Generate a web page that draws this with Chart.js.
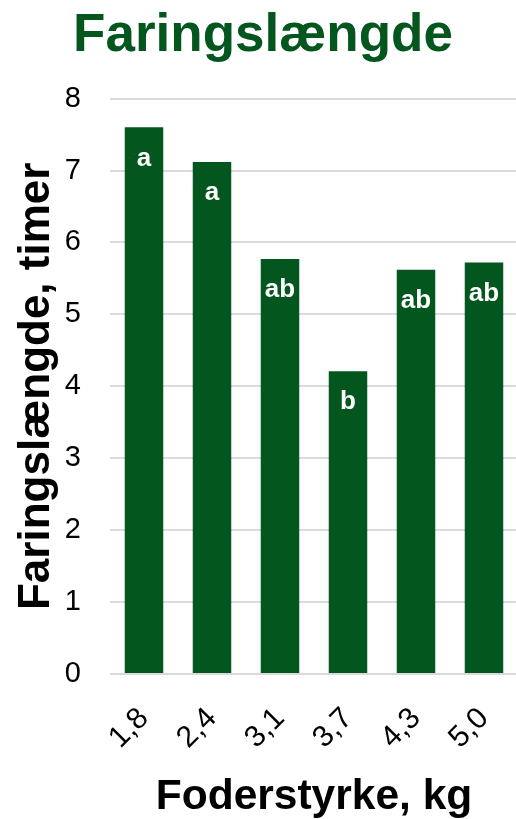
<!DOCTYPE html>
<html>
<head>
<meta charset="utf-8">
<script src="https://cdn.jsdelivr.net/npm/chart.js@4/dist/chart.umd.min.js"></script>
<style>
html,body{margin:0;padding:0;background:#fff;overflow:hidden;}
#wrap{position:relative;width:518px;height:819px;}
</style>
</head>
<body>
<div id="wrap"><canvas id="c"></canvas></div>
<script>
const categories = ["1,8", "2,4", "3,1", "3,7", "4,3", "5,0"];
const values = [7.6, 7.12, 5.77, 4.21, 5.62, 5.72];
const letters = ["a", "a", "ab", "b", "ab", "ab"];
const yTicks = [0, 1, 2, 3, 4, 5, 6, 7, 8];

const GREEN = "#04561f";
const FONT = "'Liberation Sans', Arial, sans-serif";

const letterPlugin = {
  id: "letters",
  afterDatasetsDraw(chart) {
    const ctx = chart.ctx;
    const meta = chart.getDatasetMeta(0);
    ctx.save();
    ctx.fillStyle = "#ffffff";
    ctx.font = "bold 26px " + FONT;
    ctx.textAlign = "center";
    ctx.textBaseline = "middle";
    meta.data.forEach((bar, i) => {
      ctx.fillText(letters[i], bar.x, bar.y + 31);
    });
    ctx.restore();
  }
};

new Chart(document.getElementById("c"), {
  type: "bar",
  data: {
    labels: categories,
    datasets: [{
      data: values,
      backgroundColor: GREEN,
      borderWidth: 0,
      barPercentage: 0.566,
      categoryPercentage: 1.0
    }]
  },
  plugins: [letterPlugin],
  options: {
    responsive: true,
    maintainAspectRatio: false,
    animation: false,
    layout: { padding: { left: 8, right: 0, top: 0, bottom: 0 } },
    plugins: {
      legend: { display: false },
      tooltip: { enabled: false },
      title: {
        display: true,
        text: "Faringslængde",
        color: GREEN,
        font: { family: FONT, size: 53, weight: "bold" },
        padding: { top: 5, bottom: 30 }
      }
    },
    scales: {
      x: {
        grid: { display: false },
        border: { display: false },
        afterFit(scale) {
          scale.paddingLeft = 0;
          scale.paddingRight = 0;
          scale.height = 145;
        },
        ticks: {
          color: "#000",
          font: { family: FONT, size: 30 },
          minRotation: 45,
          maxRotation: 45,
          autoSkip: false,
          padding: 19
        },
        title: {
          display: true,
          text: "Foderstyrke, kg",
          color: "#000",
          font: { family: FONT, size: 42.5, weight: "bold", lineHeight: 1 },
          padding: { top: 0, bottom: 0 }
        }
      },
      y: {
        min: 0,
        max: 8,
        afterBuildTicks(scale) { scale.ticks = yTicks.map(v => ({ value: v })); },
        afterFit(scale) { scale.width = 102; },
        grid: { color: "#d9d9d9", lineWidth: 2, drawTicks: false },
        border: { display: false },
        ticks: {
          color: "#000",
          font: { family: FONT, size: 29 },
          padding: 29
        },
        title: {
          display: true,
          text: "Faringslængde, timer",
          color: "#000",
          font: { family: FONT, size: 44, weight: "bold" },
          padding: { top: 2, bottom: 3 }
        }
      }
    }
  }
});
</script>
</body>
</html>
